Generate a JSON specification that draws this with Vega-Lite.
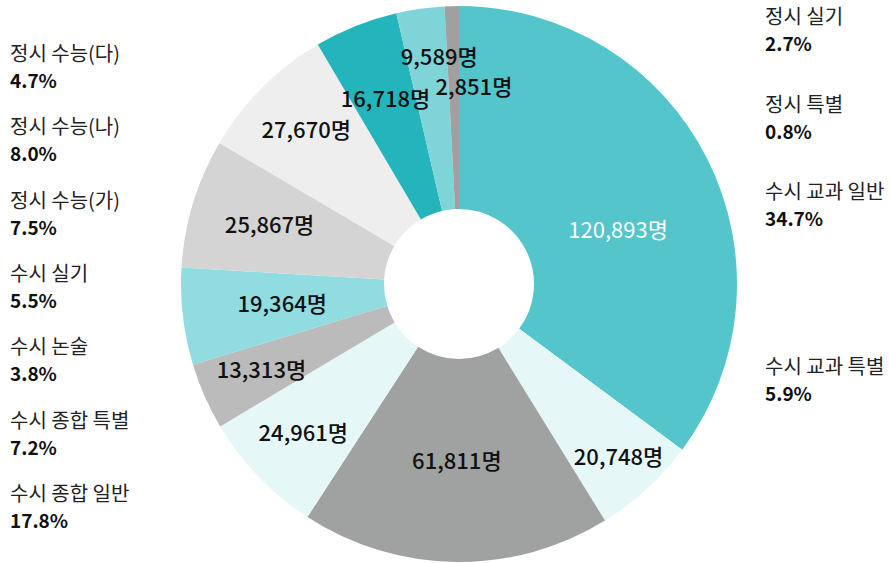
{
  "$schema": "https://vega.github.io/schema/vega-lite/v6.json",
  "width": 890,
  "height": 563,
  "autosize": {"type": "none"},
  "padding": 0,
  "background": "white",
  "config": {
    "view": {"stroke": null},
    "font": "Noto Sans CJK KR",
    "locale": {"number": {"decimal": ".", "thousands": ",", "grouping": [3], "currency": ["", "명"]}}
  },
  "data": {
    "values": [
      {"no": 1, "category": "수시 교과 일반", "value": 120893, "share": 0.347},
      {"no": 2, "category": "수시 교과 특별", "value": 20748, "share": 0.059},
      {"no": 3, "category": "수시 종합 일반", "value": 61811, "share": 0.178},
      {"no": 4, "category": "수시 종합 특별", "value": 24961, "share": 0.072},
      {"no": 5, "category": "수시 논술", "value": 13313, "share": 0.038},
      {"no": 6, "category": "수시 실기", "value": 19364, "share": 0.055},
      {"no": 7, "category": "정시 수능(가)", "value": 25867, "share": 0.075},
      {"no": 8, "category": "정시 수능(나)", "value": 27670, "share": 0.080},
      {"no": 9, "category": "정시 수능(다)", "value": 16718, "share": 0.047},
      {"no": 10, "category": "정시 실기", "value": 9589, "share": 0.027},
      {"no": 11, "category": "정시 특별", "value": 2851, "share": 0.008}
    ]
  },
  "resolve": {"scale": {"y": "independent"}},
  "layer": [
    {
      "mark": {"type": "arc", "innerRadius": 75, "outerRadius": 278},
      "encoding": {
        "theta": {"field": "value", "type": "quantitative", "stack": true},
        "order": {"field": "no", "type": "quantitative"},
        "color": {
          "field": "category", "type": "nominal",
          "scale": {
            "domain": ["수시 교과 일반", "수시 교과 특별", "수시 종합 일반", "수시 종합 특별", "수시 논술", "수시 실기", "정시 수능(가)", "정시 수능(나)", "정시 수능(다)", "정시 실기", "정시 특별"],
            "range": ["#53C5CB", "#E6F7F8", "#A0A2A1", "#E6F7F8", "#BABBBA", "#90DCE0", "#D4D4D4", "#EEEEEE", "#24B5BC", "#7FD4D8", "#A0A0A0"]
          },
          "legend": null
        },
        "x": {"value": 459},
        "y": {"value": 284}
      }
    },
    {
      "mark": {"type": "text", "radius": 168, "dx": 9, "dy": 22, "fontSize": 22, "fontWeight": 400, "fill": "#ffffff"},
      "encoding": {
        "theta": {"field": "value", "type": "quantitative", "stack": true},
        "order": {"field": "no", "type": "quantitative"},
        "x": {"value": 459}, "y": {"value": 284},
        "text": {"condition": {"test": "datum.category == '수시 교과 일반'", "field": "value", "type": "quantitative", "format": "$,d"}, "value": ""}
      }
    },
    {
      "mark": {"type": "text", "radius": 178, "fontSize": 22, "fontWeight": 500, "fill": "#111111"},
      "encoding": {
        "theta": {"field": "value", "type": "quantitative", "stack": true},
        "order": {"field": "no", "type": "quantitative"},
        "x": {"value": 459}, "y": {"value": 284},
        "text": {"condition": {"test": "indexof(['수시 종합 일반', '수시 실기'], datum.category) >= 0", "field": "value", "type": "quantitative", "format": "$,d"}, "value": ""}
      }
    },
    {
      "mark": {"type": "text", "radius": 198, "fontSize": 22, "fontWeight": 500, "fill": "#111111"},
      "encoding": {
        "theta": {"field": "value", "type": "quantitative", "stack": true},
        "order": {"field": "no", "type": "quantitative"},
        "x": {"value": 459}, "y": {"value": 284},
        "text": {"condition": {"test": "indexof(['정시 수능(가)', '정시 수능(다)'], datum.category) >= 0", "field": "value", "type": "quantitative", "format": "$,d"}, "value": ""}
      }
    },
    {
      "mark": {"type": "text", "radius": 216, "fontSize": 22, "fontWeight": 500, "fill": "#111111"},
      "encoding": {
        "theta": {"field": "value", "type": "quantitative", "stack": true},
        "order": {"field": "no", "type": "quantitative"},
        "x": {"value": 459}, "y": {"value": 284},
        "text": {"condition": {"test": "indexof(['수시 종합 특별', '수시 논술', '정시 수능(나)'], datum.category) >= 0", "field": "value", "type": "quantitative", "format": "$,d"}, "value": ""}
      }
    },
    {
      "mark": {"type": "text", "radius": 236, "fontSize": 22, "fontWeight": 500, "fill": "#111111"},
      "encoding": {
        "theta": {"field": "value", "type": "quantitative", "stack": true},
        "order": {"field": "no", "type": "quantitative"},
        "x": {"value": 459}, "y": {"value": 284},
        "text": {"condition": {"test": "datum.category == '수시 교과 특별'", "field": "value", "type": "quantitative", "format": "$,d"}, "value": ""}
      }
    },
    {
      "mark": {"type": "text", "radius": 228, "dx": 12, "fontSize": 22, "fontWeight": 500, "fill": "#111111"},
      "encoding": {
        "theta": {"field": "value", "type": "quantitative", "stack": true},
        "order": {"field": "no", "type": "quantitative"},
        "x": {"value": 459}, "y": {"value": 284},
        "text": {"condition": {"test": "datum.category == '정시 실기'", "field": "value", "type": "quantitative", "format": "$,d"}, "value": ""}
      }
    },
    {
      "mark": {"type": "text", "radius": 196, "dx": 20, "fontSize": 22, "fontWeight": 500, "fill": "#111111"},
      "encoding": {
        "theta": {"field": "value", "type": "quantitative", "stack": true},
        "order": {"field": "no", "type": "quantitative"},
        "x": {"value": 459}, "y": {"value": 284},
        "text": {"condition": {"test": "datum.category == '정시 특별'", "field": "value", "type": "quantitative", "format": "$,d"}, "value": ""}
      }
    },
    {
      "transform": [{"filter": {"field": "category", "oneOf": ["정시 수능(다)", "정시 수능(나)", "정시 수능(가)", "수시 실기", "수시 논술", "수시 종합 특별", "수시 종합 일반"]}}],
      "mark": {"type": "text", "align": "left", "baseline": "middle", "fontSize": 20, "fill": "#222222"},
      "encoding": {
        "x": {"value": 10},
        "y": {"field": "category", "type": "nominal", "axis": null,
          "scale": {"type": "point", "padding": 0, "domain": ["정시 수능(다)", "정시 수능(나)", "정시 수능(가)", "수시 실기", "수시 논술", "수시 종합 특별", "수시 종합 일반"], "range": [55, 495]}},
        "text": {"field": "category"}
      }
    },
    {
      "transform": [{"filter": {"field": "category", "oneOf": ["정시 수능(다)", "정시 수능(나)", "정시 수능(가)", "수시 실기", "수시 논술", "수시 종합 특별", "수시 종합 일반"]}}],
      "mark": {"type": "text", "align": "left", "baseline": "middle", "dy": 27, "fontSize": 19, "fontWeight": "bold", "fill": "#111111"},
      "encoding": {
        "x": {"value": 10},
        "y": {"field": "category", "type": "nominal", "axis": null,
          "scale": {"type": "point", "padding": 0, "domain": ["정시 수능(다)", "정시 수능(나)", "정시 수능(가)", "수시 실기", "수시 논술", "수시 종합 특별", "수시 종합 일반"], "range": [55, 495]}},
        "text": {"field": "share", "type": "quantitative", "format": ".1%"}
      }
    },
    {
      "transform": [{"filter": {"field": "category", "oneOf": ["정시 실기", "정시 특별", "수시 교과 일반", "수시 교과 특별"]}}],
      "mark": {"type": "text", "align": "left", "baseline": "middle", "fontSize": 20, "fill": "#222222"},
      "encoding": {
        "x": {"value": 765},
        "y": {"field": "category", "type": "nominal", "axis": null,
          "scale": {"type": "point", "padding": 0, "domain": ["정시 실기", "정시 수능(다)", "정시 특별", "정시 수능(나)", "수시 교과 일반", "정시 수능(가)", "수시 실기", "수시 논술", "수시 교과 특별", "수시 종합 특별", "수시 종합 일반"], "range": [18, 456]}},
        "text": {"field": "category"}
      }
    },
    {
      "transform": [{"filter": {"field": "category", "oneOf": ["정시 실기", "정시 특별", "수시 교과 일반", "수시 교과 특별"]}}],
      "mark": {"type": "text", "align": "left", "baseline": "middle", "dy": 27, "fontSize": 19, "fontWeight": "bold", "fill": "#111111"},
      "encoding": {
        "x": {"value": 765},
        "y": {"field": "category", "type": "nominal", "axis": null,
          "scale": {"type": "point", "padding": 0, "domain": ["정시 실기", "정시 수능(다)", "정시 특별", "정시 수능(나)", "수시 교과 일반", "정시 수능(가)", "수시 실기", "수시 논술", "수시 교과 특별", "수시 종합 특별", "수시 종합 일반"], "range": [18, 456]}},
        "text": {"field": "share", "type": "quantitative", "format": ".1%"}
      }
    }
  ]
}
